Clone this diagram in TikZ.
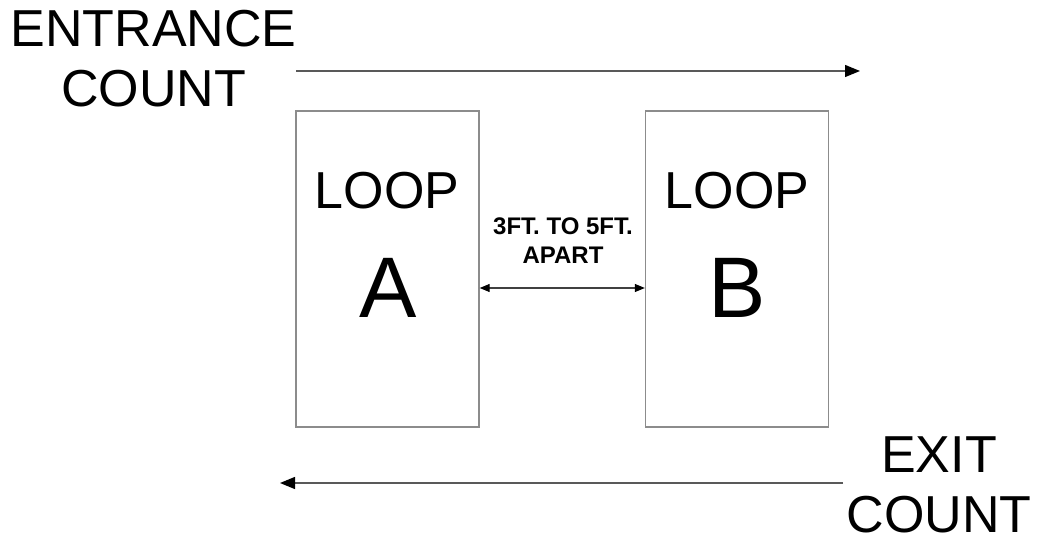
\documentclass[tikz,border=0pt]{standalone}
\usepackage{fontspec}
\setmainfont{Liberation Sans}
\usetikzlibrary{arrows.meta}
\begin{document}
\begin{tikzpicture}[x=1pt,y=-1pt,
  loopbox/.style={draw=black!45,line width=1.4pt,minimum width=183pt,minimum height=316pt,inner sep=0pt},
  bigtext/.style={font=\fontsize{52}{60}\selectfont,inner sep=0pt,anchor=base},
  sidetext/.style={font=\fontsize{52}{60}\selectfont,inner sep=0pt,align=center,text depth=0pt,anchor=south},
  lettertext/.style={font=\fontsize{86}{90}\selectfont,inner sep=0pt,anchor=base},
  smalltext/.style={font=\fontsize{24}{29}\selectfont\bfseries,inner sep=0pt,align=center,text depth=0pt,anchor=south},
  flow/.style={draw=black!65,line width=1.3pt,-{Triangle[length=15pt,width=12pt,color=black]}},
  dim/.style={draw=black!75,line width=1.1pt,{Triangle[length=10pt,width=8pt,color=black]}-{Triangle[length=10pt,width=8pt,color=black]}}
]
\useasboundingbox (0,0) rectangle (1038,537);
% boxes
\node[loopbox] (A) at (387.5,269) {};
\node[loopbox] (B) at (737,269) {};
% box texts
\node[bigtext] (loopA) at (387,209) {LOOP};
\node[lettertext] (letA) at (388,317) {A};
\node[bigtext] (loopB) at (737,209) {LOOP};
\node[lettertext] (letB) at (737,317) {B};
% side labels
\node[sidetext] (entr) at (153.5,107) {ENTRANCE\\COUNT};
\node[sidetext] (exit) at (939,533) {EXIT\\COUNT};
% spacing label
\node[smalltext] (gap) at (563,264) {3FT. TO 5FT.\\APART};
% flows
\coordinate (entS) at (296,71);
\coordinate (entE) at (860,71);
\coordinate (exS) at (843,483);
\coordinate (exE) at (280,483);
\coordinate (dimy) at (0,288);
\draw[flow] (entS) -- (entE);
\draw[flow] (exS) -- (exE);
\draw[dim] (A.east |- dimy) -- (B.west |- dimy);
\end{tikzpicture}
\end{document}
